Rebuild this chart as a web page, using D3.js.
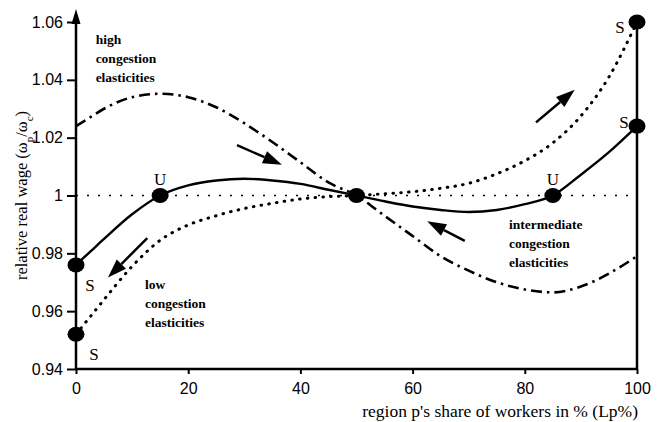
<!DOCTYPE html>
<html>
<head>
<meta charset="utf-8">
<script src="https://cdn.jsdelivr.net/npm/d3@7"></script>
<style>
  body { margin: 0; background: #fff; }
  svg { font-family: "Liberation Serif", "Times New Roman", serif; }
</style>
</head>
<body>
<svg id="chart"></svg>
<script>
// share of workers in region p (%)
var shares = [0, 2.5, 5, 10, 15, 20, 25, 30, 35, 40, 45, 50, 55, 60, 65, 70, 75, 80, 85, 90, 95, 100];

// relative real wage for the three congestion cases
var lowCongestion  = [0.952, 0.958, 0.964, 0.9755, 0.9845, 0.9898, 0.993, 0.9955, 0.9973, 0.9988, 0.9996, 1.0,
                      1.0006, 1.0013, 1.0025, 1.0042, 1.0075, 1.012, 1.0182, 1.0275, 1.041, 1.06];
var midCongestion  = [0.976, 0.9805, 0.985, 0.9935, 1.0, 1.0035, 1.0052, 1.0058, 1.0052, 1.004, 1.002, 1.0,
                      0.998, 0.9962, 0.995, 0.9943, 0.995, 0.997, 1.0, 1.0072, 1.015, 1.024];
var highCongestion = [1.024, 1.027, 1.030, 1.034, 1.0352, 1.034, 1.0305, 1.025, 1.0185, 1.0115, 1.0045, 1.0,
                      0.993, 0.986, 0.979, 0.974, 0.9700, 0.9675, 0.9665, 0.9685, 0.973, 0.979];

var xTicks = [0, 20, 40, 60, 80, 100];
var yTicks = [0.94, 0.96, 0.98, 1.0, 1.02, 1.04, 1.06];
var yTickLabels = ["0.94", "0.96", "0.98", "1", "1.02", "1.04", "1.06"];

// equilibria: S = stable, U = unstable
var equilibria = [
  {x: 0, y: 0.976, label: "S", dx: 14, dy: 20},
  {x: 0, y: 0.952, label: "S", dx: 18, dy: 20},
  {x: 15, y: 1.0, label: "U", dx: 0, dy: -17},
  {x: 50, y: 1.0, label: "", dx: 0, dy: 0},
  {x: 85, y: 1.0, label: "U", dx: 0, dy: -17},
  {x: 100, y: 1.024, label: "S", dx: -13, dy: -4},
  {x: 100, y: 1.06, label: "S", dx: -17, dy: 5}
];

// direction-of-motion arrows [tailX, tailY, tipX, tipY]
var arrows = [
  [28.7, 1.0174, 36.7, 1.0106],
  [12.7, 0.9853, 5.7, 0.9716],
  [69.3, 0.9843, 62.6, 0.9911],
  [82.0, 1.0253, 88.9, 1.0366]
];

var notes = [
  {x: 3.5, y: 1.0523, lines: ["high", "congestion", "elasticities"]},
  {x: 12.3, y: 0.9675, lines: ["low", "congestion", "elasticities"]},
  {x: 77.2, y: 0.9885, lines: ["intermediate", "congestion", "elasticities"]}
];

var width = 657, height = 422;
var svg = d3.select("#chart").attr("width", width).attr("height", height);

var x = d3.scaleLinear().domain([0, 100]).range([76, 637]);
var y = d3.scaleLinear().domain([0.94, 1.06]).range([369, 22]);

// y axis
var yAxis = d3.axisLeft(y).tickValues(yTicks).tickSize(9).tickPadding(4)
    .tickFormat(function(d, i) { return yTickLabels[i]; });
var gy = svg.append("g").attr("transform", "translate(" + x(0) + ",0)").call(yAxis);
gy.select(".domain").remove();
gy.selectAll("line").attr("stroke", "#000").attr("stroke-width", 2);
gy.selectAll("text").style("font-size", "16px").attr("fill", "#000");

// x axis
var xAxis = d3.axisBottom(x).tickValues(xTicks).tickSize(5).tickPadding(9);
var gx = svg.append("g").attr("transform", "translate(0," + y(0.94) + ")").call(xAxis);
gx.select(".domain").remove();
gx.selectAll("line").attr("stroke", "#000").attr("stroke-width", 2);
gx.selectAll("text").style("font-size", "16px").attr("fill", "#000");

// axis lines
svg.append("line").attr("x1", x(0)).attr("x2", x(100)).attr("y1", y(0.94)).attr("y2", y(0.94))
  .attr("stroke", "#000").attr("stroke-width", 2.5);
svg.append("line").attr("x1", x(0)).attr("x2", x(0)).attr("y1", y(0.94)).attr("y2", 20)
  .attr("stroke", "#000").attr("stroke-width", 2.5);
svg.append("path").attr("d", "M" + x(0) + ",9 L" + (x(0) - 4.5) + ",24 L" + (x(0) + 4.5) + ",24 Z")
  .attr("fill", "#000");
svg.append("line").attr("x1", x(100)).attr("x2", x(100)).attr("y1", y(0.94)).attr("y2", y(1.06))
  .attr("stroke", "#000").attr("stroke-width", 2.5);

// reference line at 1
svg.append("line").attr("x1", x(0)).attr("x2", x(100)).attr("y1", y(1)).attr("y2", y(1))
  .attr("stroke", "#000").attr("stroke-width", 1.4).attr("stroke-dasharray", "2,9");

var line = d3.line().curve(d3.curveMonotoneX)
  .x(function(d) { return x(d[0]); })
  .y(function(d) { return y(d[1]); });

function pairs(vals) { return shares.map(function(s, i) { return [s, vals[i]]; }); }

svg.append("path").attr("d", line(pairs(highCongestion)))
  .attr("fill", "none").attr("stroke", "#000").attr("stroke-width", 2.6)
  .attr("stroke-dasharray", "11,5,2.5,5");
svg.append("path").attr("d", line(pairs(lowCongestion)))
  .attr("fill", "none").attr("stroke", "#000").attr("stroke-width", 3)
  .attr("stroke-linecap", "round").attr("stroke-dasharray", "0.6,7.2");
svg.append("path").attr("d", line(pairs(midCongestion)))
  .attr("fill", "none").attr("stroke", "#000").attr("stroke-width", 2.4);

// arrows
arrows.forEach(function(a) {
  var x1 = x(a[0]), y1 = y(a[1]), x2 = x(a[2]), y2 = y(a[3]);
  var ang = Math.atan2(y2 - y1, x2 - x1);
  var hl = 19, hw = 6.5;
  var bx = x2 - hl * Math.cos(ang), by = y2 - hl * Math.sin(ang);
  svg.append("line").attr("x1", x1).attr("y1", y1).attr("x2", bx).attr("y2", by)
    .attr("stroke", "#000").attr("stroke-width", 2.5);
  svg.append("path")
    .attr("d", "M" + x2 + "," + y2 +
      " L" + (bx + hw * Math.sin(ang)) + "," + (by - hw * Math.cos(ang)) +
      " L" + (bx - hw * Math.sin(ang)) + "," + (by + hw * Math.cos(ang)) + " Z")
    .attr("fill", "#000");
});

// equilibrium dots and labels
svg.selectAll("ellipse.eq").data(equilibria).enter().append("ellipse")
  .attr("cx", function(d) { return x(d.x); })
  .attr("cy", function(d) { return y(d.y); })
  .attr("rx", 8.5).attr("ry", 7.5).attr("fill", "#000");
svg.selectAll("text.eq").data(equilibria).enter().append("text")
  .attr("x", function(d) { return x(d.x) + d.dx; })
  .attr("y", function(d) { return y(d.y) + d.dy + 6; })
  .attr("text-anchor", "middle").style("font-size", "17px")
  .text(function(d) { return d.label; });

// notes
notes.forEach(function(n) {
  var t = svg.append("text").attr("x", x(n.x)).attr("y", y(n.y))
    .style("font-size", "13.5px").style("font-weight", "bold");
  n.lines.forEach(function(l, i) {
    t.append("tspan").attr("x", x(n.x)).attr("dy", i === 0 ? 0 : 19).text(l);
  });
});

// axis titles
svg.append("text").attr("x", x(100) + 1).attr("y", 417).attr("text-anchor", "end")
  .style("font-size", "17.5px").text("region p's share of workers in % (Lp%)");
var yl = svg.append("text").attr("transform", "translate(27," + y(1) + ") rotate(-90)")
  .attr("text-anchor", "middle").style("font-size", "16.5px");
yl.append("tspan").text("relative real wage (ω");
yl.append("tspan").attr("baseline-shift", "sub").style("font-size", "11px").text("p");
yl.append("tspan").text("/ω");
yl.append("tspan").attr("baseline-shift", "sub").style("font-size", "11px").text("c");
yl.append("tspan").text(")");
</script>
</body>
</html>
